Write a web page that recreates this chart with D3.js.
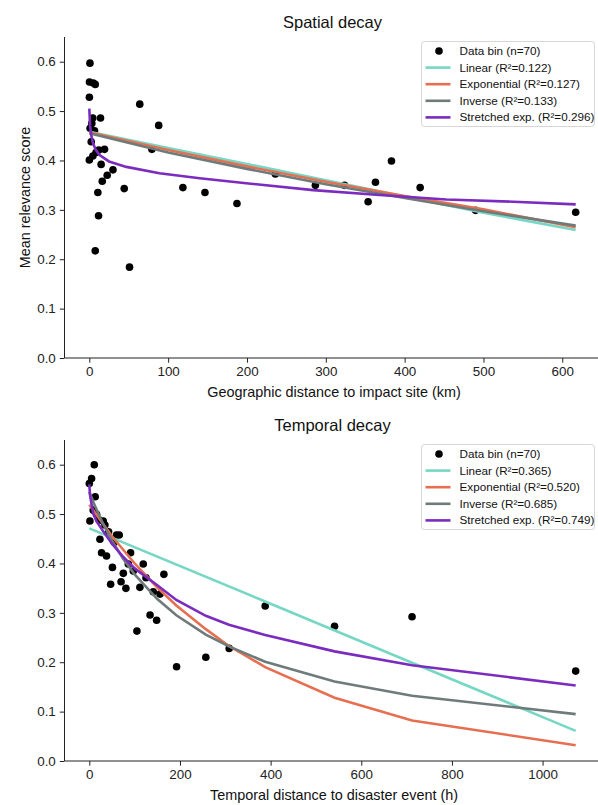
<!DOCTYPE html>
<html>
<head>
<meta charset="utf-8">
<script src="https://cdn.jsdelivr.net/npm/d3@7"></script>
<style>
  body { margin: 0; background: #fff; }
  svg { display: block; font-family: "Liberation Sans", Arial, sans-serif; }
</style>
</head>
<body>
<div id="chart"></div>
<script>
// ---- data ----
const spatialBins = [
  [0.8, 0.597], [0.2, 0.559], [7.5, 0.554], [5, 0.557], [0.1, 0.528], [64, 0.514], [88, 0.471],
  [4.4, 0.486], [14.2, 0.486], [3.2, 0.475], [1, 0.465], [6.6, 0.460], [2.4, 0.438], [19.3, 0.4225],
  [79.4, 0.4225], [0, 0.401], [4.5, 0.409], [8.5, 0.416], [12, 0.421], [15, 0.392], [30, 0.381],
  [22.7, 0.370], [16.4, 0.358], [10.8, 0.335], [44.3, 0.343], [118.7, 0.345], [11.7, 0.288],
  [7.5, 0.217], [51, 0.184], [146.7, 0.335], [187.3, 0.313], [236, 0.3725], [286.8, 0.3496],
  [323.7, 0.3496], [353.7, 0.3165], [363, 0.356], [383.3, 0.399], [419.7, 0.345], [490, 0.299],
  [617, 0.295]
];
const spatialLinear = [[0, 0.458], [100, 0.425], [200, 0.393], [300, 0.360], [400, 0.327], [500, 0.294], [617, 0.259]];
const spatialExp = [[0, 0.457], [100, 0.421], [200, 0.388], [300, 0.357], [400, 0.328], [500, 0.301], [617, 0.265]];
const spatialInverse = [[0, 0.455], [100, 0.416], [200, 0.383], [300, 0.352], [400, 0.324], [500, 0.297], [617, 0.268]];
const spatialStretched = [[0, 0.505], [1, 0.470], [2.4, 0.452], [4.4, 0.436], [8, 0.422], [13, 0.411], [25, 0.398],
  [47, 0.387], [89, 0.374], [140, 0.364], [199, 0.354], [284, 0.340], [368, 0.330], [453, 0.321], [538, 0.3165], [617, 0.311]];

const temporalBins = [
  [10.9, 0.600], [5, 0.572], [0, 0.562], [13, 0.535], [8.7, 0.508], [16, 0.4995], [1.3, 0.486], [22, 0.488],
  [30.7, 0.486], [34.4, 0.478], [42.5, 0.464], [60, 0.4575], [66, 0.4575], [23.4, 0.449], [55, 0.443],
  [27, 0.4217], [38, 0.415], [91, 0.4217], [86, 0.399], [119, 0.399], [51, 0.392], [97, 0.3846], [75, 0.380],
  [164.5, 0.378], [125, 0.371], [47, 0.358], [70, 0.363], [80.7, 0.3496], [111.6, 0.3516], [141, 0.3427],
  [156, 0.338], [134, 0.2955], [148.5, 0.285], [105, 0.263], [192.5, 0.191], [257, 0.21], [308.6, 0.228],
  [388, 0.3138], [541, 0.273], [712, 0.292], [1073, 0.182]
];
const temporalLinear = [[0, 0.471], [388, 0.323], [712, 0.199], [1073, 0.061]];
const temporalExp = [[0, 0.519], [50, 0.455], [100, 0.400], [150, 0.351], [192, 0.315], [257, 0.267],
  [308, 0.233], [388, 0.190], [541, 0.128], [712, 0.082], [1073, 0.032]];
const temporalInverse = [[0, 0.545], [10, 0.522], [20, 0.501], [30, 0.481], [50, 0.446], [75, 0.409], [100, 0.378],
  [150, 0.328], [192, 0.295], [257, 0.256], [308, 0.232], [388, 0.201], [541, 0.161], [712, 0.132], [1073, 0.095]];
const temporalStretched = [[0, 0.560], [1.3, 0.540], [5, 0.520], [8.7, 0.501], [16, 0.485], [30, 0.466], [50, 0.440],
  [75, 0.413], [100, 0.390], [150, 0.356], [192, 0.326], [257, 0.294], [308, 0.276], [388, 0.255], [541, 0.222],
  [712, 0.194], [1073, 0.153]];

const fitNames = ['Linear', 'Exponential', 'Inverse', 'Stretched exp.'];
const spatialR2 = ['0.122', '0.127', '0.133', '0.296'];
const temporalR2 = ['0.365', '0.520', '0.685', '0.749'];
const yTicks = [0, 0.1, 0.2, 0.3, 0.4, 0.5, 0.6];
const spatialXTicks = [0, 100, 200, 300, 400, 500, 600];
const temporalXTicks = [0, 200, 400, 600, 800, 1000];

const colors = ['#76D7C4', '#E76F51', '#6F7B7B', '#7B2CBF'];

const [svgWidth, svgHeight] = [598, 805];

function translate(x, y) {
  return 'translate(' + x + ',' + y + ')';
}

const svg = d3.select('#chart').append('svg')
  .attr('width', svgWidth)
  .attr('height', svgHeight);

function drawPanel(opts) {
  const { top, bottom, bins, fits, r2, xTicks, title, xLabel, yLabel } = opts;
  const xMax = d3.max(bins, d => d[0]);
  const pad = xMax * 0.05;
  const x = d3.scaleLinear().domain([-pad, xMax + pad]).range([65, 600]);
  const y = d3.scaleLinear().domain([0, 0.65]).range([bottom, top]);

  const g = svg.append('g');

  // axes
  const xAxis = g.append('g').attr('transform', translate(0, bottom))
    .call(d3.axisBottom(x).tickValues(xTicks).tickSize(4.7).tickPadding(4).tickFormat(d3.format('d')));
  const yAxis = g.append('g').attr('transform', translate(64.5, 0))
    .call(d3.axisLeft(y).tickValues(yTicks).tickSize(4.7).tickPadding(4).tickFormat(d3.format('.1f')));
  [xAxis, yAxis].forEach(a => {
    a.select('.domain').attr('stroke', '#222').attr('stroke-width', 1);
    a.selectAll('.tick line').attr('stroke', '#222').attr('stroke-width', 1);
    a.selectAll('.tick text').attr('fill', '#222').style('font-size', '13.4px')
      .style('font-family', '"Liberation Sans", Arial, sans-serif');
  });
  yAxis.select('.domain').attr('d', 'M0,' + bottom + 'V' + top);
  xAxis.select('.domain').attr('d', 'M65,0H600');

  // scatter
  g.append('g').selectAll('circle')
    .data(bins)
    .enter().append('circle')
    .attr('cx', d => x(d[0]))
    .attr('cy', d => y(d[1]))
    .attr('r', 3.8)
    .attr('fill', '#000');

  // fits
  const line = d3.line().x(d => x(d[0])).y(d => y(d[1]));
  fits.forEach((f, i) => {
    g.append('path')
      .datum(f)
      .attr('d', line)
      .attr('fill', 'none')
      .attr('stroke', colors[i])
      .attr('stroke-width', 2.6);
  });

  // title and labels
  g.append('text')
    .attr('x', 332.5).attr('y', top - 9)
    .attr('text-anchor', 'middle')
    .style('font-size', '16.5px').attr('fill', '#111')
    .text(title);
  g.append('text')
    .attr('x', 334).attr('y', bottom + 39)
    .attr('text-anchor', 'middle')
    .style('font-size', '14.4px').attr('fill', '#111')
    .text(xLabel);
  if (yLabel) {
    g.append('text')
      .attr('transform', translate(30, (top + bottom) / 2) + ' rotate(-90)')
      .attr('text-anchor', 'middle')
      .style('font-size', '14.4px').attr('fill', '#111')
      .text(yLabel);
  }

  // legend
  const lg = g.append('g').attr('transform', translate(421.5, top + 4.5));
  lg.append('rect')
    .attr('width', 173).attr('height', 85)
    .attr('rx', 3)
    .attr('fill', '#fff').attr('fill-opacity', 0.8)
    .attr('stroke', '#d6d6d6').attr('stroke-width', 1);
  const rowY = i => 9.5 + i * 16.6;
  lg.append('circle').attr('cx', 17.5).attr('cy', rowY(0)).attr('r', 3.8).attr('fill', '#000');
  lg.append('text').attr('x', 38).attr('y', rowY(0) + 4)
    .style('font-size', '11.7px').attr('fill', '#111').text('Data bin (n=70)');
  fitNames.forEach((n, i) => {
    lg.append('line')
      .attr('x1', 4).attr('x2', 29)
      .attr('y1', rowY(i + 1)).attr('y2', rowY(i + 1))
      .attr('stroke', colors[i]).attr('stroke-width', 2.6);
    lg.append('text').attr('x', 38).attr('y', rowY(i + 1) + 4)
      .style('font-size', '11.7px').attr('fill', '#111')
      .text(n + ' (R\u00B2=' + r2[i] + ')');
  });
}

drawPanel({
  top: 37, bottom: 358,
  bins: spatialBins,
  fits: [spatialLinear, spatialExp, spatialInverse, spatialStretched],
  r2: spatialR2,
  xTicks: spatialXTicks,
  title: 'Spatial decay',
  xLabel: 'Geographic distance to impact site (km)',
  yLabel: 'Mean relevance score'
});

drawPanel({
  top: 440, bottom: 761,
  bins: temporalBins,
  fits: [temporalLinear, temporalExp, temporalInverse, temporalStretched],
  r2: temporalR2,
  xTicks: temporalXTicks,
  title: 'Temporal decay',
  xLabel: 'Temporal distance to disaster event (h)',
  yLabel: null
});
</script>
</body>
</html>
